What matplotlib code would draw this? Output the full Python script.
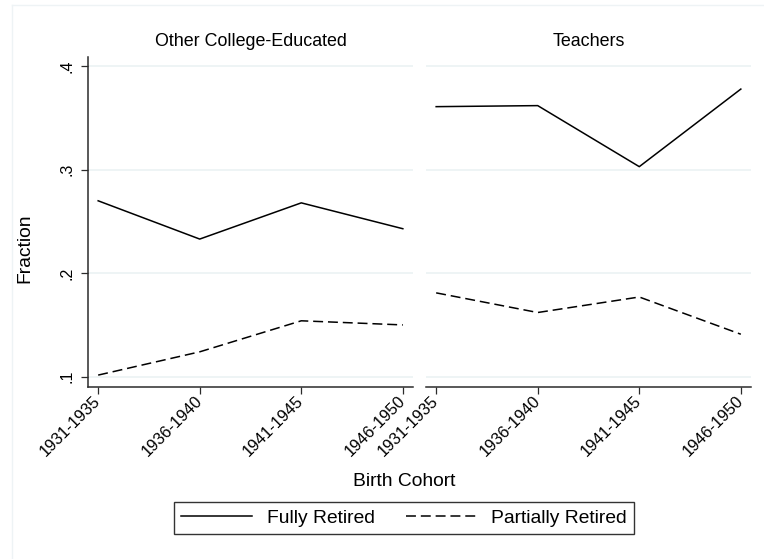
import numpy as np
import matplotlib
matplotlib.use("Agg")
import matplotlib.pyplot as plt
from matplotlib.lines import Line2D

plt.rcParams['font.family'] = ['Liberation Sans', 'DejaVu Sans']

# data
cohorts = ['1931-1935', '1936-1940', '1941-1945', '1946-1950']
panels = ['Other College-Educated', 'Teachers']
fully_other = [0.270, 0.233, 0.268, 0.243]
partial_other = [0.1015, 0.124, 0.154, 0.150]
fully_teach = [0.361, 0.362, 0.303, 0.378]
partial_teach = [0.181, 0.162, 0.177, 0.141]
yticks = [0.1, 0.2, 0.3, 0.4]
ytick_labels = ['.1', '.2', '.3', '.4']

W, H = 764, 559
fig = plt.figure(figsize=(W / 100, H / 100), dpi=100)

grid_col = '#EAF1F3'
axis_col = '#2b2b2b'
dash = (0, (6.5, 3.2))

def px_axes(x0, x1, y0, y1):
    return fig.add_axes([x0 / W, 1 - y1 / H, (x1 - x0) / W, (y1 - y0) / H])

ax1 = px_axes(88, 413, 57, 387)
ax2 = px_axes(426, 751, 57, 387)

x = np.arange(len(cohorts))
series = [(ax1, fully_other, partial_other, panels[0]),
          (ax2, fully_teach, partial_teach, panels[1])]

for ax, full, part, title in series:
    for yt in yticks:
        ax.axhline(yt, color=grid_col, lw=1.1, zorder=0)
    l1, = ax.plot(x, full, color='black', lw=1.1, label='Fully Retired')
    l2, = ax.plot(x, part, color='black', lw=1.1, linestyle=dash,
                  label='Partially Retired')
    ax.set_xlim(-0.1, 3.1)
    ax.set_ylim(0.09, 0.409)
    ax.set_xticks(x)
    ax.set_xticklabels(cohorts, rotation=45, ha='right', va='center',
                       rotation_mode='anchor', fontsize=11.8)
    ax.tick_params(axis='x', length=5, width=0.9, color=axis_col, pad=3)
    ax.set_title(title, fontsize=12.9, pad=8)
    for s in ['top', 'right']:
        ax.spines[s].set_visible(False)
    ax.spines['bottom'].set_color(axis_col)
    ax.spines['bottom'].set_linewidth(1.1)
    ax.set_facecolor('white')

ax1.set_yticks(yticks)
ax1.set_yticklabels(ytick_labels, rotation=90, va='center', fontsize=11.5)
ax1.tick_params(axis='y', length=5, width=0.9, color=axis_col, pad=5)
ax1.spines['left'].set_color(axis_col)
ax1.spines['left'].set_linewidth(1.1)

ax2.spines['left'].set_visible(False)
ax2.set_yticks(yticks)
ax2.tick_params(axis='y', left=False, labelleft=False)

fig.text(25 / W, 1 - 248 / H, 'Fraction', rotation=90, fontsize=13.9,
         ha='center', va='center')
fig.text(404 / W, 1 - 482 / H, 'Birth Cohort', fontsize=13.9,
         ha='center', va='center')

leg = fig.legend(handles=[l1, l2], loc='center', ncol=2,
                 bbox_to_anchor=(404 / W, 1 - 518 / H), fontsize=13.9,
                 handlelength=3.7, handletextpad=0.75, columnspacing=1.6,
                 fancybox=False, borderpad=0.35, borderaxespad=0)
leg.get_frame().set_edgecolor('black')
leg.get_frame().set_linewidth(1.0)

# faint outer frame
fig.add_artist(Line2D([12 / W, 1], [1 - 5 / H, 1 - 5 / H], color='#EEF3F5', lw=1))
fig.add_artist(Line2D([12 / W, 12 / W], [0, 1 - 5 / H], color='#EEF3F5', lw=1))

fig.savefig('out.png', dpi=100, facecolor='white')
